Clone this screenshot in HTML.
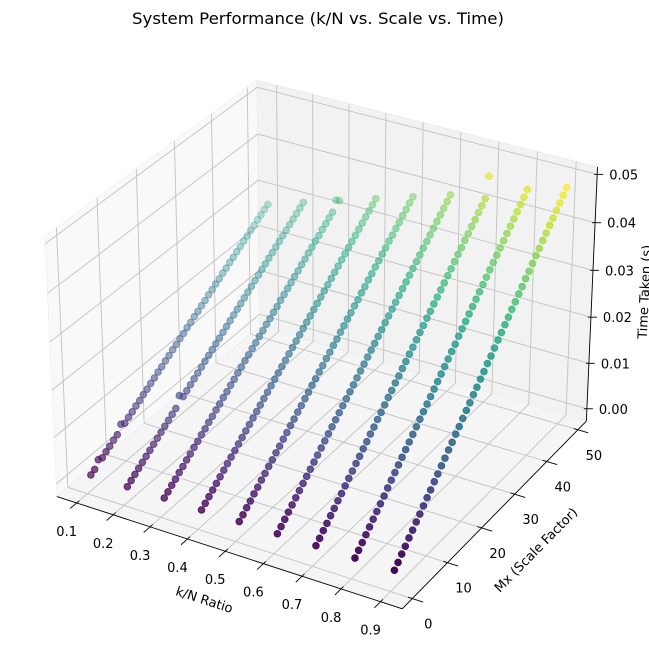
<!DOCTYPE html>
<html><head><meta charset="utf-8"><style>
html,body{margin:0;padding:0;background:#fff}
svg{display:block}
text{font-family:"DejaVu Sans","Liberation Sans",sans-serif;fill:#000}
</style></head><body>
<svg id="chart" width="649" height="658" viewBox="0 0 649 658" xmlns="http://www.w3.org/2000/svg">
<text x="318" y="24" font-size="16" text-anchor="middle" textLength="372" lengthAdjust="spacingAndGlyphs">System Performance (k/N vs. Scale vs. Time)</text>
<g id="panes"></g>
<g id="grid"></g>
<g id="axes"></g>
<g id="points"></g>
<text font-size="13" text-anchor="middle" transform="translate(203,604) rotate(18)">k/N Ratio</text>
<text font-size="13" text-anchor="middle" transform="translate(539,553) rotate(-45.5)">Mx (Scale Factor)</text>
<text font-size="13" text-anchor="middle" transform="translate(649,292) rotate(-87.3)">Time Taken (s)</text>
</svg>
<script>
// ---- data ----
const kRatios = [0.1,0.2,0.3,0.4,0.5,0.6,0.7,0.8,0.9];
const mxValues = [1,2,3,4,5,6,7,8,9,10,11,12,13,14,15,16,17,18,19,20,21,22,23,24,25,26,27,28,29,30,31,32,33,34,35,36,37,38,39,40,41,42,43,44,45,46,47,48,49,50];
// time taken in milliseconds per row (k/N)
const timeK01 = [0.6,1.1,2.5,2.2,2.8,3.3,3.9,4.4,6.0,5.5,6.1,6.6,7.2,7.7,8.3,8.8,9.4,9.9,10.5,11.0,11.6,12.1,12.7,13.2,13.8,14.3,14.9,15.4,16.0,16.5,17.1,17.6,18.2,18.7,19.3,19.8,20.4,20.9,21.5,22.0,22.6,23.1,23.7,24.2,24.8,25.3,25.9,26.4,27.0,27.5];
const timeK02 = [0.6,1.2,1.8,2.4,3.0,3.6,4.2,4.8,5.4,6.0,6.6,7.2,7.8,8.4,10.5,9.6,10.2,10.8,11.4,12.0,12.6,13.2,13.8,14.4,15.0,15.6,16.2,16.8,17.4,18.0,18.6,19.2,19.8,20.4,21.0,21.6,22.2,22.8,23.4,24.0,24.6,25.2,25.8,26.4,27.0,27.6,28.2,28.8,29.4,30.0];
const timeK03 = [0.7,1.3,2.0,2.6,3.3,3.9,4.6,5.2,5.9,6.5,7.2,7.8,8.5,9.1,9.8,10.4,11.1,11.7,12.4,13.0,13.7,14.3,15.0,15.6,16.3,16.9,17.6,18.2,18.9,19.5,20.2,20.8,21.5,22.1,22.8,23.4,24.1,24.7,25.4,26.0,26.7,27.3,28.0,28.6,29.3,29.9,30.6,31.2,33.2,32.5];
const timeK04 = [0.7,1.4,2.1,2.8,3.5,4.2,4.9,5.6,6.3,7.0,7.7,8.4,9.1,9.8,10.5,11.2,11.9,12.6,13.3,14.0,14.7,15.4,16.1,16.8,17.5,18.2,18.9,19.6,20.3,21.0,21.7,22.4,23.1,23.8,24.5,25.2,25.9,26.6,27.3,28.0,28.7,29.4,30.1,30.8,31.5,32.2,32.9,33.6,34.3,35.0];
const timeK05 = [0.8,1.5,2.3,3.0,3.8,4.5,5.3,6.0,6.8,7.5,8.3,9.0,9.8,10.5,11.3,12.0,12.8,13.5,14.3,15.0,15.8,16.5,17.3,18.0,18.8,19.5,20.3,21.0,21.8,22.5,23.3,24.0,24.8,25.5,26.3,27.0,27.8,28.5,29.3,30.0,30.8,31.5,32.3,33.0,33.8,34.5,35.3,36.0,36.8,37.5];
const timeK06 = [0.8,1.6,2.4,3.2,4.0,4.8,5.6,6.4,7.2,8.0,8.8,9.6,10.4,11.2,12.0,12.8,13.6,14.4,15.2,16.0,16.8,17.6,18.4,19.2,20.0,20.8,21.6,22.4,23.2,24.0,24.8,25.6,26.4,27.2,28.0,28.8,29.6,30.4,31.2,32.0,32.8,33.6,34.4,35.2,36.0,36.8,37.6,38.4,39.2,40.0];
const timeK07 = [0.9,1.7,2.6,3.4,4.3,5.1,6.0,6.8,7.7,8.6,9.4,10.3,11.1,12.0,12.8,13.7,14.5,15.4,16.2,17.1,18.0,18.8,19.7,20.5,21.4,22.2,23.1,23.9,24.8,25.7,26.5,27.4,28.2,29.1,29.9,30.8,31.6,32.5,33.3,34.2,35.1,35.9,36.8,37.6,38.5,39.3,40.2,41.0,41.9,46.0];
const timeK08 = [0.9,1.8,2.7,3.6,4.5,5.4,6.3,7.2,8.1,9.1,10.0,10.9,11.8,12.7,13.6,14.5,15.4,16.3,17.2,18.1,19.0,19.9,20.8,21.7,22.6,23.5,24.4,25.3,26.2,27.2,28.1,29.0,29.9,30.8,31.7,32.6,33.5,34.4,35.3,36.2,37.1,38.0,38.9,39.8,40.7,41.6,42.5,43.4,44.3,45.3];
const timeK09 = [1.0,1.9,2.9,3.8,4.8,5.7,6.7,7.6,8.6,9.6,10.5,11.5,12.4,13.4,14.3,15.3,16.2,17.2,18.1,19.1,20.1,21.0,22.0,22.9,23.9,24.8,25.8,26.7,27.7,28.7,29.6,30.6,31.5,32.5,33.4,34.4,35.3,36.3,37.2,38.2,39.2,40.1,41.1,42.0,43.0,43.9,44.9,45.8,46.8,47.8];
const timeRows = [timeK01,timeK02,timeK03,timeK04,timeK05,timeK06,timeK07,timeK08,timeK09];
const xTicks = [0.1,0.2,0.3,0.4,0.5,0.6,0.7,0.8,0.9];
const yTicks = [0,10,20,30,40,50];
const zTicks = [0,0.01,0.02,0.03,0.04,0.05];
const xTickLabels = ["0.1","0.2","0.3","0.4","0.5","0.6","0.7","0.8","0.9"];
const yTickLabels = ["0","10","20","30","40","50"];
const zTickLabels = ["0.00","0.01","0.02","0.03","0.04","0.05"];

// ---- projection ----
const XL=[0.0455,0.9545], YL=[-2.78,52.78], ZL=[-0.00275,0.0515];
const k=1.8294640721620434/Math.sqrt(41);
const BOX=[4*k,4*k,3*k];
const el=30*Math.PI/180, az=-60*Math.PI/180, DIST=10;
const ps=[Math.cos(el)*Math.cos(az),Math.cos(el)*Math.sin(az),Math.sin(el)];
const R=BOX.map(b=>b/2);
const E=R.map((r,i)=>r+DIST*ps[i]);
function cross(a,b){return [a[1]*b[2]-a[2]*b[1],a[2]*b[0]-a[0]*b[2],a[0]*b[1]-a[1]*b[0]];}
function norm(a){const n=Math.hypot(a[0],a[1],a[2]);return a.map(v=>v/n);}
function dot(a,b){return a[0]*b[0]+a[1]*b[1]+a[2]*b[2];}
const w=norm(ps), u=norm(cross([0,0,1],w)), v=cross(w,u);
function raw(x,y,z){
  const p=[(x-XL[0])/(XL[1]-XL[0])*BOX[0],(y-YL[0])/(YL[1]-YL[0])*BOX[1],(z-ZL[0])/(ZL[1]-ZL[0])*BOX[2]];
  const d=[p[0]-E[0],p[1]-E[1],p[2]-E[2]];
  const zv=dot(w,d);
  return [dot(u,d)/(-zv),dot(v,d)/(-zv),-zv];
}
const fitPts=[[XL[0],YL[0],ZL[0],56,496],[XL[1],YL[0],ZL[0],403,609],[XL[1],YL[1],ZL[0],586,421],[XL[0],YL[1],ZL[1],258,84],[XL[1],YL[1],ZL[1],598,165],[XL[0],YL[0],ZL[1],44,235]];
let msx=0,msy=0,mpx=0,mpy=0;const rs=fitPts.map(f=>raw(f[0],f[1],f[2]));
fitPts.forEach((f,i)=>{msx+=rs[i][0];msy+=rs[i][1];mpx+=f[3];mpy+=f[4];});
const n=fitPts.length;msx/=n;msy/=n;mpx/=n;mpy/=n;
let num=0,den=0;
fitPts.forEach((f,i)=>{const a=rs[i][0]-msx,b=rs[i][1]-msy;num+=a*(f[3]-mpx)-b*(f[4]-mpy);den+=a*a+b*b;});
const S=num/den, CX=mpx-S*msx, CY=mpy+S*msy;
function P(x,y,z){const r=raw(x,y,z);return [CX+S*r[0],CY-S*r[1],r[2]];}

const NS="http://www.w3.org/2000/svg";
function mk(tag,parent,attrs){const e=document.createElementNS(NS,tag);for(const key in attrs)e.setAttribute(key,attrs[key]);parent.appendChild(e);return e;}
function poly(pts){return pts.map(p=>p[0].toFixed(2)+","+p[1].toFixed(2)).join(" ");}
function line(parent,a,b,stroke,sw){return mk("line",parent,{x1:a[0],y1:a[1],x2:b[0],y2:b[1],stroke:stroke,"stroke-width":sw});}

const gP=document.getElementById("panes"),gG=document.getElementById("grid"),gA=document.getElementById("axes"),gS=document.getElementById("points");
let pe;
pe=mk("polygon",gP,{points:poly([P(XL[0],YL[0],ZL[0]),P(XL[0],YL[1],ZL[0]),P(XL[0],YL[1],ZL[1]),P(XL[0],YL[0],ZL[1])]),fill:"#f9f9f9",stroke:"#f2f2f2","stroke-width":1});


pe=mk("polygon",gP,{points:poly([P(XL[0],YL[1],ZL[0]),P(XL[1],YL[1],ZL[0]),P(XL[1],YL[1],ZL[1]),P(XL[0],YL[1],ZL[1])]),fill:"#f2f2f2",stroke:"#ececec","stroke-width":1});


pe=mk("polygon",gP,{points:poly([P(XL[0],YL[0],ZL[0]),P(XL[1],YL[0],ZL[0]),P(XL[1],YL[1],ZL[0]),P(XL[0],YL[1],ZL[0])]),fill:"#f5f5f5",stroke:"#efefef","stroke-width":1});



const GC="#c2c2c2",GW=0.9;
let ge;
xTicks.forEach(t=>{
  ge=line(gG,P(t,YL[0],ZL[0]),P(t,YL[1],ZL[0]),GC,GW);
  
  
  ge=line(gG,P(t,YL[1],ZL[0]),P(t,YL[1],ZL[1]),GC,GW);
  
  
});
yTicks.forEach(t=>{
  ge=line(gG,P(XL[0],t,ZL[0]),P(XL[1],t,ZL[0]),GC,GW);
  
  
  ge=line(gG,P(XL[0],t,ZL[0]),P(XL[0],t,ZL[1]),GC,GW);
  
  
});
zTicks.forEach(t=>{
  ge=line(gG,P(XL[0],YL[0],t),P(XL[0],YL[1],t),GC,GW);
  
  
  ge=line(gG,P(XL[0],YL[1],t),P(XL[1],YL[1],t),GC,GW);
  
  
});

let ae;
ae=line(gA,P(XL[0],YL[0],ZL[0]),P(XL[1],YL[0],ZL[0]),"#000",0.9);


ae=line(gA,P(XL[1],YL[0],ZL[0]),P(XL[1],YL[1],ZL[0]),"#000",0.9);


ae=line(gA,P(XL[1],YL[1],ZL[0]),P(XL[1],YL[1],ZL[1]),"#000",0.9);



const yr=YL[1]-YL[0], xr=XL[1]-XL[0];
xTicks.forEach((t,i)=>{
  const a=P(t,YL[0]+0.012*yr,ZL[0]), b=P(t,YL[0]-0.03*yr,ZL[0]), c=P(t,YL[0],ZL[0]);
  const tk=line(gA,a,b,"#000",0.9);
  
  
  const tx=mk("text",gA,{x:c[0]-10,y:c[1]+33,"font-size":13,"text-anchor":"middle"});
  tx.textContent=xTickLabels[i];
  
  
});
yTicks.forEach((t,i)=>{
  const a=P(XL[1]-0.012*xr,t,ZL[0]), b=P(XL[1]+0.03*xr,t,ZL[0]), c=P(XL[1],t,ZL[0]);
  const tk=line(gA,a,b,"#000",0.9);
  
  
  const tx=mk("text",gA,{x:c[0]+16,y:c[1]+30,"font-size":13,"text-anchor":"middle"});
  tx.textContent=yTickLabels[i];
  
  
});
zTicks.forEach((t,i)=>{
  const c=P(XL[1],YL[1],t);
  const tk=line(gA,[c[0]-3,c[1]],[c[0]+6,c[1]],"#000",0.9);
  
  
  const tx=mk("text",gA,{x:c[0]+12,y:c[1]+5,"font-size":13,"text-anchor":"start"});
  tx.textContent=zTickLabels[i];
  
  
});

const VIR=[[68,1,84],[72,36,117],[65,68,135],[53,95,141],[42,120,142],[33,145,140],[34,168,132],[68,191,112],[122,209,81],[189,223,38],[253,231,37]];
function viridis(t){t=Math.max(0,Math.min(1,t));const f=t*10,i=Math.min(9,Math.floor(f)),r=f-i;const a=VIR[i],b=VIR[i+1];return "rgb("+a.map((c,j)=>Math.round(c+(b[j]-c)*r)).join(",")+")";}

const pts=[];
let tmin=Infinity,tmax=-Infinity;
timeRows.forEach(row=>row.forEach(ms=>{const s=ms/1000;tmin=Math.min(tmin,s);tmax=Math.max(tmax,s);}));
kRatios.forEach((kr,ri)=>{
  mxValues.forEach((mx,mi)=>{
    const t=timeRows[ri][mi]/1000;
    const p=P(kr,mx,t);
    pts.push({p:p,t:t});
  });
});
let dmin=Infinity,dmax=-Infinity;
pts.forEach(o=>{dmin=Math.min(dmin,o.p[2]);dmax=Math.max(dmax,o.p[2]);});
pts.sort((a,b)=>b.p[2]-a.p[2]);
pts.forEach(o=>{
  const alpha=1-(o.p[2]-dmin)/(dmax-dmin)*0.7;
  const col=viridis((o.t-tmin)/(tmax-tmin));
  const c=mk("circle",gS,{cx:o.p[0].toFixed(2),cy:o.p[1].toFixed(2),r:3.3,fill:col,stroke:col,"stroke-width":1,"fill-opacity":alpha.toFixed(3),"stroke-opacity":alpha.toFixed(3)});
  
  
});
</script>
</body></html>
